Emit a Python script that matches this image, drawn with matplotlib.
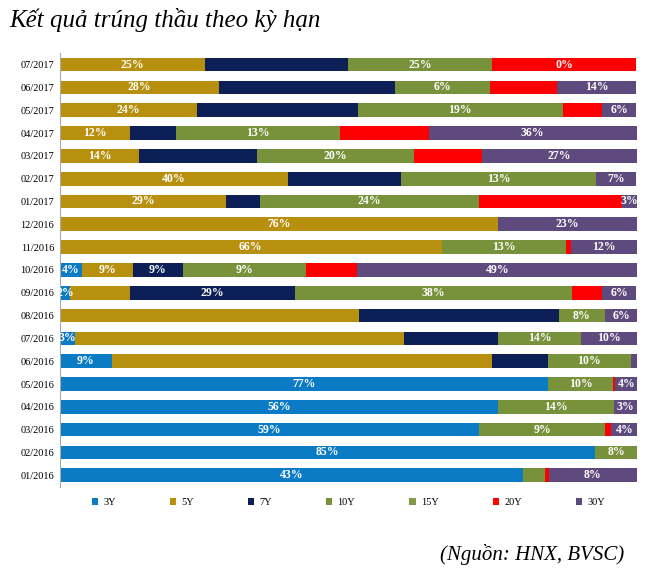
import matplotlib
matplotlib.use("Agg")
import matplotlib.pyplot as plt
import numpy as np

months = ["07/2017","06/2017","05/2017","04/2017","03/2017","02/2017","01/2017","12/2016","11/2016","10/2016",
          "09/2016","08/2016","07/2016","06/2016","05/2016","04/2016","03/2016","02/2016","01/2016"]
series = ["3Y","5Y","7Y","10Y","15Y","20Y","30Y"]
colors = ["#0a7bc4","#b8900f","#0c2057","#77923a","#7f9a46","#ff0000","#5f4a7d"]

v3Y  = [0,0,0,0,0,0,0,0,0,3.8,1.8,0,2.6,9.0,84.6,76.0,72.7,92.8,80.2]
v5Y  = [25.2,27.6,23.7,12.2,13.8,39.5,28.8,75.9,66.2,8.8,10.4,51.9,57.0,65.9,0,0,0,0,0]
v7Y  = [24.8,30.4,27.9,7.9,20.3,19.6,5.9,0,0,8.8,28.5,34.6,16.4,9.7,0,0,0,0,0]
v10Y = [24.9,16.6,35.5,28.5,27.2,33.8,37.9,0,21.5,21.3,48.1,7.9,14.3,14.3,11.3,20.0,21.7,7.2,3.9]
v15Y = [0]*19
v20Y = [25.0,11.5,6.8,15.3,11.8,0,24.8,0,0.8,8.8,5.1,0,0,0,0.3,0,1.1,0,0.6]
v30Y = [0,13.8,6.0,36.1,26.9,7.0,2.6,24.1,11.5,48.6,6.0,5.7,9.8,1.2,3.9,4.0,4.6,0,15.3]

l3Y  = ["","","","","","","","","","4%","2%","","3%","9%","77%","56%","59%","85%","43%"]
l5Y  = ["25%","28%","24%","12%","14%","40%","29%","76%","66%","9%","","","","","","","","",""]
l7Y  = ["","","","","","","","","","9%","29%","","","","","","","",""]
l10Y = ["25%","6%","19%","13%","20%","13%","24%","","13%","9%","38%","8%","14%","10%","10%","14%","9%","8%",""]
l15Y = [""]*19
l20Y = ["0%"]+[""]*18
l30Y = ["","14%","6%","36%","27%","7%","3%","23%","12%","49%","6%","6%","10%","","4%","3%","4%","","8%"]

vals = [v3Y,v5Y,v7Y,v10Y,v15Y,v20Y,v30Y]
labs = [l3Y,l5Y,l7Y,l10Y,l15Y,l20Y,l30Y]

fig = plt.figure(figsize=(6.5,5.78), dpi=100)
ax = fig.add_axes([0.092,0.158,0.888,0.75])
y = np.arange(len(months))
left = np.zeros(len(months))
for s,c,v,l in zip(series,colors,vals,labs):
    v = np.array(v, float)
    ax.barh(y, v, left=left, color=c, height=0.6, label=s)
    for i in range(len(months)):
        if l[i]:
            ax.text(left[i]+v[i]/2, y[i], l[i], ha="center", va="center", color="white",
                    fontsize=8.5, fontweight="bold", family="Liberation Serif")
    left += v
ax.set_ylim(len(months)-0.5, -0.5)
ax.set_xlim(0,100)
ax.set_yticks(y)
ax.set_yticklabels(months, family="Liberation Serif", fontsize=7.5)
ax.set_xticks([])
for sp in ["top","right","bottom"]:
    ax.spines[sp].set_visible(False)
ax.spines["left"].set_color("#aaaaaa")
ax.tick_params(axis="y", length=0, pad=4)

ax.legend(loc="upper center", bbox_to_anchor=(0.5,-0.005), ncol=7, frameon=False,
          prop={"family":"Liberation Serif","size":7.5}, handlelength=0.6, handleheight=0.6,
          columnspacing=5.2, handletextpad=0.5)

fig.text(0.015,0.965,"Kết quả trúng thầu theo kỳ hạn", fontsize=18, style="italic",
         family="Liberation Serif", va="center")
fig.text(0.96,0.04,"(Nguồn: HNX, BVSC)", fontsize=15, style="italic",
         family="Liberation Serif", ha="right", va="center")
fig.savefig("out.png", dpi=100)
